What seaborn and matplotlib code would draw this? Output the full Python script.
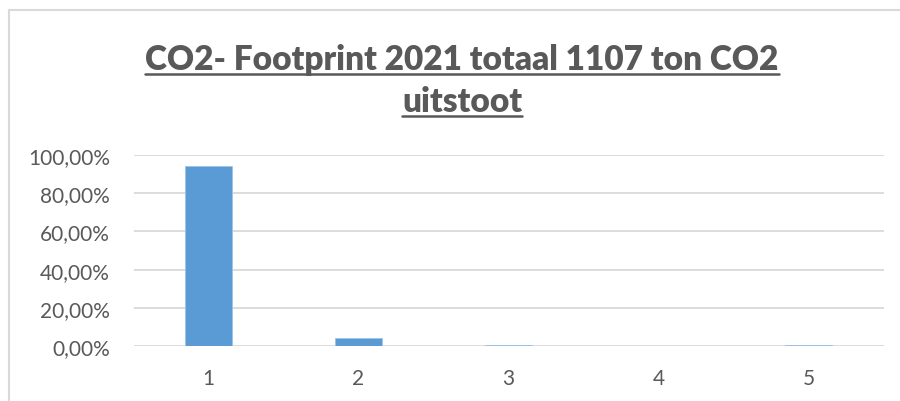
import matplotlib
matplotlib.use("Agg")
import matplotlib.pyplot as plt
import seaborn as sns
from matplotlib.ticker import FuncFormatter
from matplotlib.lines import Line2D

categories = ["1", "2", "3", "4", "5"]
shares = [0.943, 0.041, 0.006, 0.001, 0.004]
title_lines = ["CO2- Footprint 2021 totaal 1107 ton CO2", "uitstoot"]

sns.set_style("white")
plt.rcParams['font.family'] = ['Lato', 'DejaVu Sans']

grey_text = "#595959"
grid_col = "#d9d9d9"
bar_col = "#5b9bd5"

fig = plt.figure(figsize=(9, 4.02), dpi=100)
W, H = 900, 402
ax = fig.add_axes([133.5 / W, 1 - 347 / H, 750 / W, 191 / H])

sns.barplot(x=categories, y=shares, color=bar_col, width=0.31, saturation=1,
            edgecolor="#9cc3e6", linewidth=0.6, ax=ax)

ax.set_ylim(0, 1)
ax.set_xlim(-0.5, 4.5)
ax.set_yticks([0, 0.2, 0.4, 0.6, 0.8, 1.0])
ax.yaxis.set_major_formatter(FuncFormatter(lambda v, p: f"{v * 100:.2f}%".replace(".", ",")))
ax.grid(axis="y", color=grid_col, linewidth=1.3)
ax.set_axisbelow(True)
for s in ax.spines.values():
    s.set_visible(False)
ax.tick_params(axis="both", length=0, labelsize=15, colors=grey_text)
ax.tick_params(axis="y", pad=17)
ax.tick_params(axis="x", pad=16)
ax.set_xlabel("")
ax.set_ylabel("")

# chart frame (only top/left visible in the crop)
fig.add_artist(Line2D([9 / W, 9 / W], [0, 1 - 11 / H], color=grid_col, lw=1.5))
fig.add_artist(Line2D([9 / W, 1], [1 - 11 / H, 1 - 11 / H], color=grid_col, lw=1.5))

# title, two lines, bold and underlined
baselines = [69.5, 112]
texts = []
for line, b in zip(title_lines, baselines):
    t = fig.text(462 / W, 1 - b / H, line, ha="center", va="baseline",
                 fontsize=24, fontweight="heavy", color=grey_text)
    texts.append(t)

fig.canvas.draw()
r = fig.canvas.get_renderer()
for t, b in zip(texts, baselines):
    bb = t.get_window_extent(r)
    y = 1 - (b + 5) / H
    fig.add_artist(Line2D([bb.x0 / W, bb.x1 / W], [y, y], color=grey_text, lw=1.8))

fig.savefig("out.png", dpi=100)
